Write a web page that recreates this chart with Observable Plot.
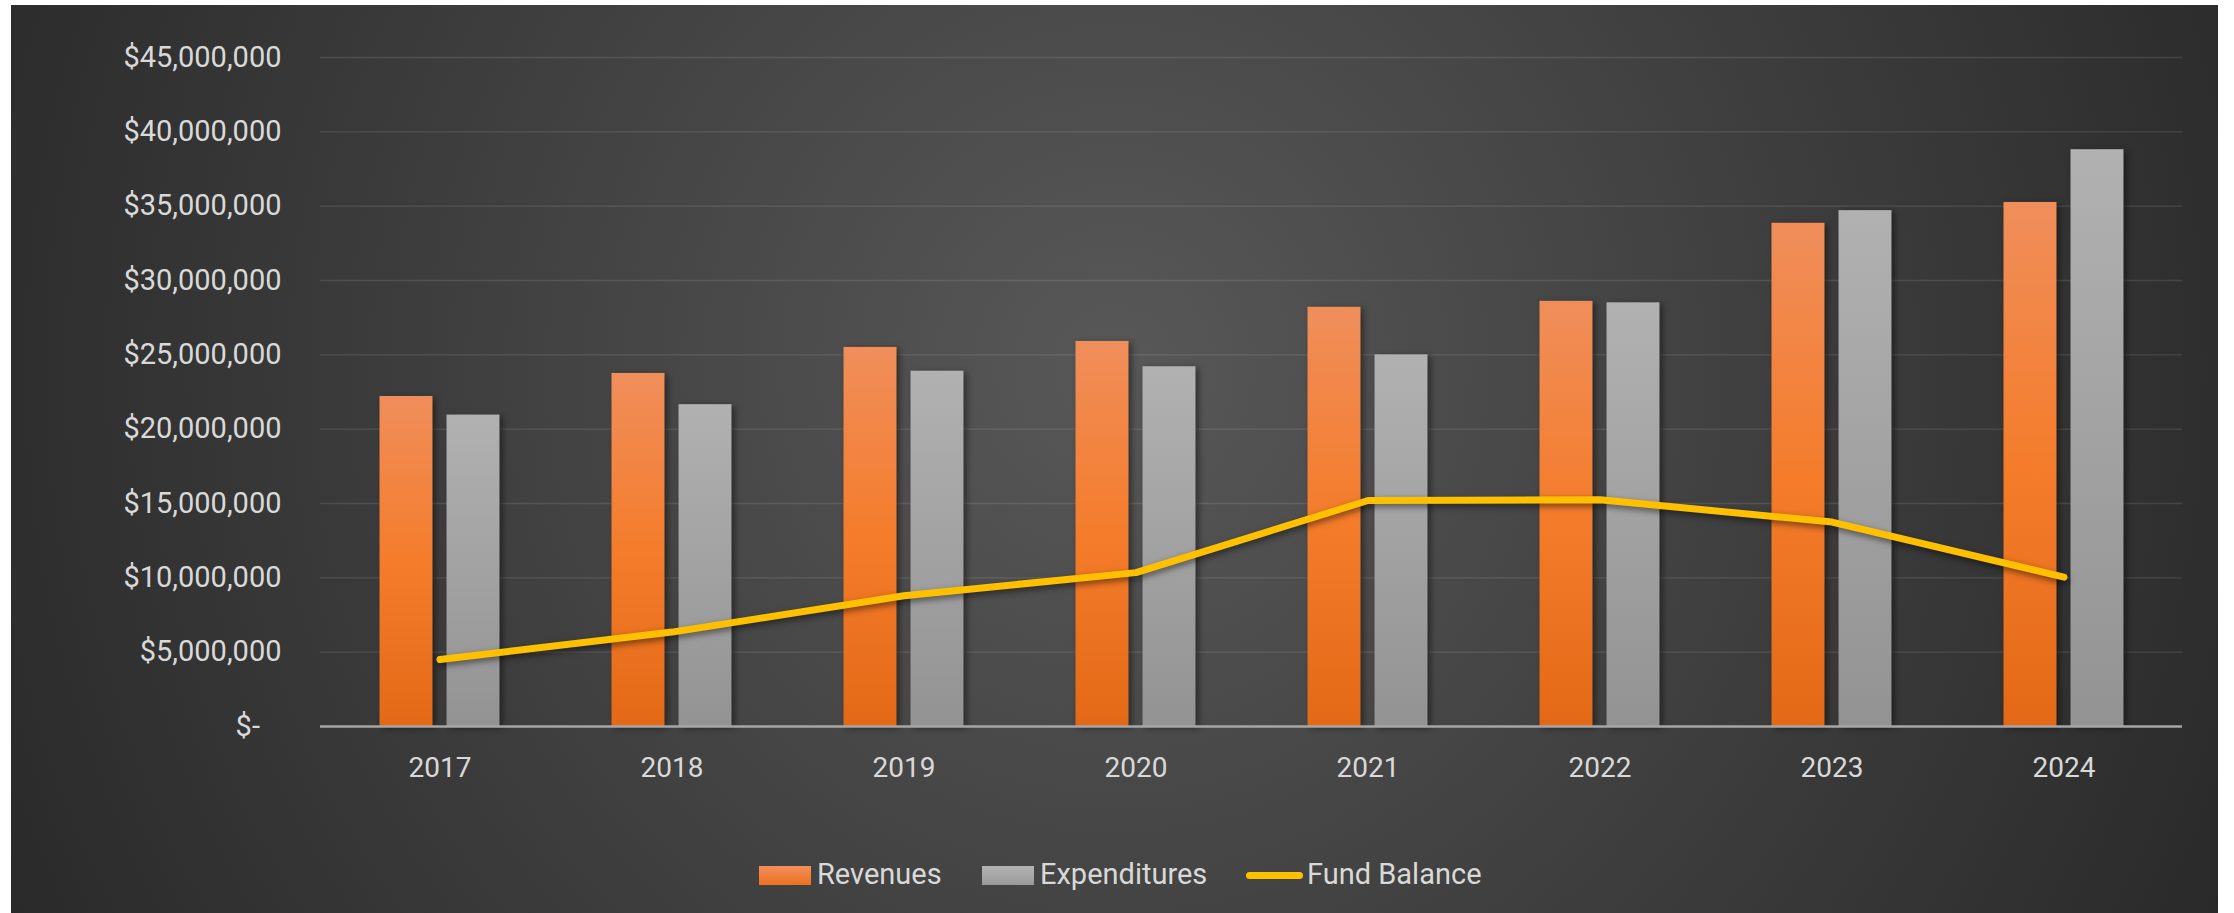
<!DOCTYPE html>
<html>
<head>
<meta charset="utf-8">
<script src="https://cdn.jsdelivr.net/npm/d3@7"></script>
<script src="https://cdn.jsdelivr.net/npm/@observablehq/plot@0.6"></script>
<style>
  html, body { margin: 0; padding: 0; background: #ffffff; width: 2234px; height: 913px; overflow: hidden; }
  #chart {
    position: absolute; left: 11px; top: 5px; width: 2207px; height: 908px;
    background: radial-gradient(ellipse 60% 150% at 50% 40%, #585858 0%, #3c3c3c 55%, #262626 100%);
    font-family: Roboto, "Open Sans", sans-serif;
  }
  #plot { position: absolute; left: 0; top: 0; }
  .sw { position: absolute; }
  .lt { position: absolute; font-size: 29px; color: #d9d9d9; line-height: 1; white-space: nowrap; }
</style>
</head>
<body>
<div id="chart">
  <div id="plot"></div>
  <div id="legend"></div>
</div>
<script>
const years = ["2017", "2018", "2019", "2020", "2021", "2022", "2023", "2024"];
const revenues = [22200000, 23750000, 25500000, 25900000, 28200000, 28600000, 33850000, 35250000];
const expenditures = [20950000, 21650000, 23900000, 24200000, 25000000, 28500000, 34700000, 38800000];
const fundBalance = [4500000, 6350000, 8800000, 10350000, 15200000, 15250000, 13750000, 10050000];
const yTicks = [0, 5000000, 10000000, 15000000, 20000000, 25000000, 30000000, 35000000, 40000000, 45000000];
const seriesNames = ["Revenues", "Expenditures", "Fund Balance"];

const rows = years.map((year, i) => ({year, rev: revenues[i], exp: expenditures[i], fund: fundBalance[i]}));

const fmt = d => d === 0 ? "$-\u00a0\u00a0\u00a0" : "$" + d3.format(",")(d);

const svg = Plot.plot({
  width: 2207,
  height: 790,
  marginLeft: 309,
  marginRight: 36,
  marginTop: 52,
  marginBottom: 69,
  style: {background: "transparent", fontFamily: "Roboto, 'Open Sans', sans-serif", overflow: "visible"},
  x: {type: "band", domain: years, paddingInner: 0.7736, paddingOuter: 0.3868, label: null},
  y: {domain: [0, 45000000], label: null},
  marks: [
    Plot.gridY(yTicks.filter(d => d !== 0), {stroke: "#ffffff", strokeOpacity: 0.11, strokeWidth: 1.3}),
    Plot.axisY(yTicks, {tickSize: 0, tickPadding: 39, tickFormat: fmt, fontSize: 29, fill: "#d9d9d9", label: null}),
    Plot.axisX({tickSize: 0, tickPadding: 31, fontSize: 28, fill: "#d9d9d9", label: null}),
    Plot.barY(rows, {x: "year", y: "rev", fill: "url(#gOrange)", dx: -33.5}),
    Plot.barY(rows, {x: "year", y: "exp", fill: "url(#gGray)", dx: 33.5}),
    Plot.ruleY([0], {stroke: "#a6a6a6", strokeWidth: 2.5}),
    Plot.line(rows, {x: "year", y: "fund", stroke: "#FFC000", strokeWidth: 7, strokeLinecap: "round", strokeLinejoin: "round"})
  ]
});

// gradient definitions
const defs = d3.select(svg).insert("defs", ":first-child");
const go = defs.append("linearGradient").attr("id", "gOrange").attr("x1", 0).attr("y1", 0).attr("x2", 0).attr("y2", 1);
go.append("stop").attr("offset", "0%").attr("stop-color", "#F08E5B");
go.append("stop").attr("offset", "50%").attr("stop-color", "#F47C2B");
go.append("stop").attr("offset", "100%").attr("stop-color", "#E36916");
const gg = defs.append("linearGradient").attr("id", "gGray").attr("x1", 0).attr("y1", 0).attr("x2", 0).attr("y2", 1);
gg.append("stop").attr("offset", "0%").attr("stop-color", "#B1B1B1");
gg.append("stop").attr("offset", "100%").attr("stop-color", "#939393");

d3.select(svg).selectAll("g[aria-label=bar]").style("filter", "drop-shadow(3px 2px 3px rgba(0,0,0,0.45))");
d3.select(svg).selectAll("g[aria-label=line]").style("filter", "drop-shadow(1px 3px 3px rgba(0,0,0,0.5))");

document.getElementById("plot").appendChild(svg);

// legend
const legend = document.getElementById("legend");
const items = [
  {name: seriesNames[0], sw: {left: 748, top: 861, width: 52, height: 19, background: "linear-gradient(#F28F5C, #EE7020)"}, tx: 806},
  {name: seriesNames[1], sw: {left: 971, top: 861, width: 52, height: 19, background: "linear-gradient(#B3B3B3, #999999)"}, tx: 1029},
  {name: seriesNames[2], sw: {left: 1235, top: 867, width: 57, height: 7, background: "#FFC000", borderRadius: "4px"}, tx: 1296}
];
for (const it of items) {
  const s = document.createElement("div");
  s.className = "sw";
  Object.assign(s.style, {
    left: it.sw.left + "px", top: it.sw.top + "px", width: it.sw.width + "px", height: it.sw.height + "px",
    background: it.sw.background, borderRadius: it.sw.borderRadius || "0"
  });
  legend.appendChild(s);
  const t = document.createElement("div");
  t.className = "lt";
  t.textContent = it.name;
  Object.assign(t.style, {left: it.tx + "px", top: "855px"});
  legend.appendChild(t);
}
</script>
</body>
</html>
